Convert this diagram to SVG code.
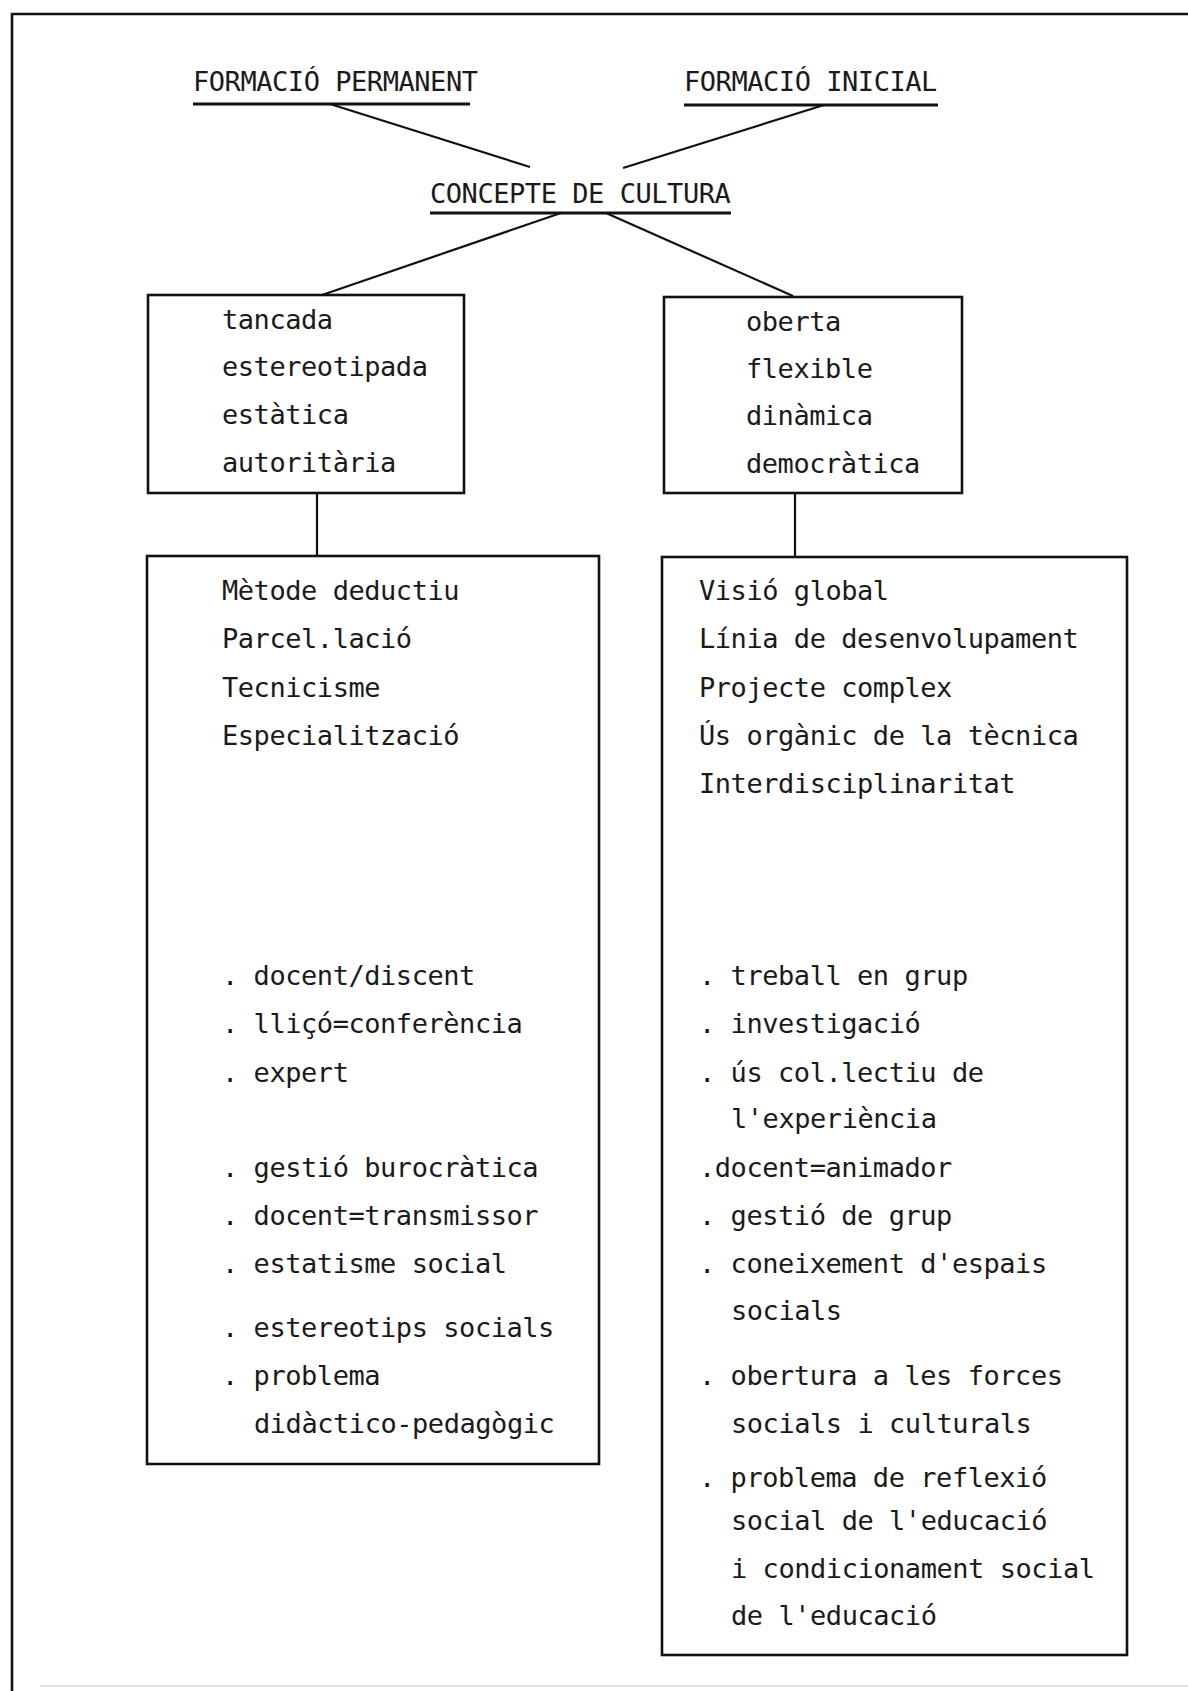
<svg xmlns="http://www.w3.org/2000/svg" width="1188" height="1691" viewBox="0 0 1188 1691">
<style>
text{font-family:"DejaVu Sans Mono","Liberation Mono",monospace;font-size:27px;letter-spacing:-0.45px;fill:#1a1a1a}
.box{fill:none;stroke:#111;stroke-width:2.6}
.ln{stroke:#111;stroke-width:2.2;fill:none}
.ul{stroke:#111;stroke-width:3.2}
.frame{stroke:#111;stroke-width:2.6;fill:none}
</style>
<rect width="1188" height="1691" fill="#fff"/>
<g id="frame">
<path class="frame" d="M12,1691 V14 H1188"/>
<line x1="40" y1="1686" x2="1188" y2="1686" stroke="#e2e2e2" stroke-width="2"/>
</g>
<g id="connectors">
<line class="ln" x1="330" y1="104" x2="530" y2="167"/>
<line class="ln" x1="824" y1="105" x2="623" y2="168"/>
<line class="ln" x1="561" y1="213" x2="322" y2="295"/>
<line class="ln" x1="606" y1="213" x2="793" y2="296"/>
<line class="ln" x1="317" y1="493" x2="317" y2="556"/>
<line class="ln" x1="795" y1="493" x2="795" y2="557"/>
</g>
<g id="formacio-permanent">
<text x="193" y="91">FORMACIÓ PERMANENT</text>
<line class="ul" x1="193" y1="104" x2="470" y2="104"/>
</g>
<g id="formacio-inicial">
<text x="684" y="91">FORMACIÓ INICIAL</text>
<line class="ul" x1="684" y1="105" x2="938" y2="105"/>
</g>
<g id="concepte-de-cultura">
<text x="430" y="203">CONCEPTE DE CULTURA</text>
<line class="ul" x1="430" y1="213" x2="731" y2="213"/>
</g>
<g id="cultura-tancada">
<rect class="box" x="148" y="295" width="316" height="198"/>
<text x="222" y="329">tancada</text>
<text x="222" y="376">estereotipada</text>
<text x="222" y="424">estàtica</text>
<text x="222" y="472">autoritària</text>
</g>
<g id="cultura-oberta">
<rect class="box" x="664" y="297" width="298" height="196"/>
<text x="746" y="331">oberta</text>
<text x="746" y="378">flexible</text>
<text x="746" y="425">dinàmica</text>
<text x="746" y="473">democràtica</text>
</g>
<g id="model-tancat">
<rect class="box" x="147" y="556" width="452" height="908"/>
<text x="222" y="600">Mètode deductiu</text>
<text x="222" y="648">Parcel.lació</text>
<text x="222" y="697">Tecnicisme</text>
<text x="222" y="745">Especialització</text>
<text x="222" y="985">. docent/discent</text>
<text x="222" y="1033">. lliçó=conferència</text>
<text x="222" y="1082">. expert</text>
<text x="222" y="1177">. gestió burocràtica</text>
<text x="222" y="1225">. docent=transmissor</text>
<text x="222" y="1273">. estatisme social</text>
<text x="222" y="1337">. estereotips socials</text>
<text x="222" y="1385">. problema</text>
<text x="254" y="1433">didàctico-pedagògic</text>
</g>
<g id="model-obert">
<rect class="box" x="662" y="557" width="465" height="1098"/>
<text x="699" y="600">Visió global</text>
<text x="699" y="648">Línia de desenvolupament</text>
<text x="699" y="697">Projecte complex</text>
<text x="699" y="745">Ús orgànic de la tècnica</text>
<text x="699" y="793">Interdisciplinaritat</text>
<text x="699" y="985">. treball en grup</text>
<text x="699" y="1033">. investigació</text>
<text x="699" y="1082">. ús col.lectiu de</text>
<text x="731" y="1128">l'experiència</text>
<text x="699" y="1177">.docent=animador</text>
<text x="699" y="1225">. gestió de grup</text>
<text x="699" y="1273">. coneixement d'espais</text>
<text x="731" y="1320">socials</text>
<text x="699" y="1385">. obertura a les forces</text>
<text x="731" y="1433">socials i culturals</text>
<text x="699" y="1487">. problema de reflexió</text>
<text x="731" y="1530">social de l'educació</text>
<text x="731" y="1578">i condicionament social</text>
<text x="731" y="1625">de l'educació</text>
</g>
</svg>
